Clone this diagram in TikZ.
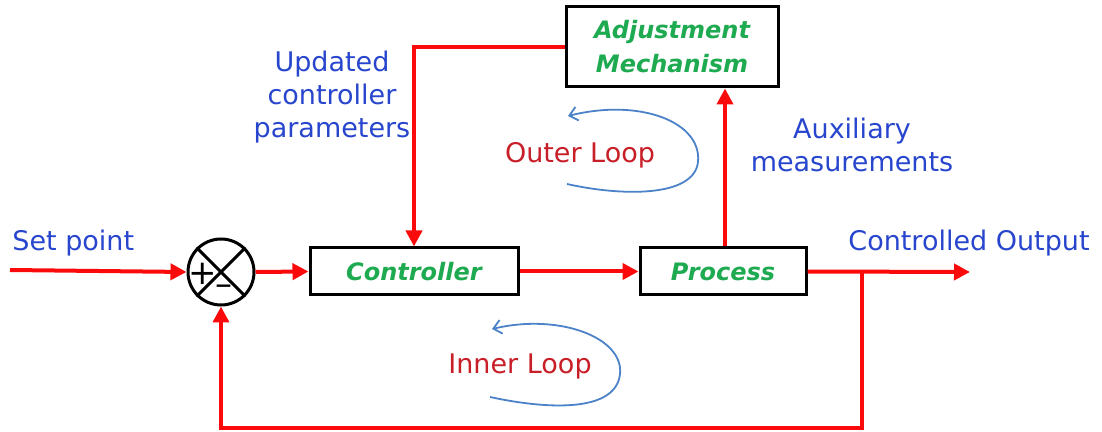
\documentclass[tikz,border=0pt]{standalone}
\usepackage{fontspec}
\setmainfont{DejaVu Sans}
\usepackage{tikz}
\usetikzlibrary{arrows.meta, positioning, shapes}

\definecolor{sigred}{RGB}{250,10,10}
\definecolor{lblblue}{RGB}{40,70,205}
\definecolor{boxgreen}{RGB}{30,170,80}
\definecolor{loopred}{RGB}{200,30,40}
\definecolor{loopblue}{RGB}{75,130,200}

\tikzset{
	block/.style={draw, line width=1.5pt, minimum height=23.5pt, inner sep=0pt,
		font=\fontsize{12}{15}\selectfont\bfseries\itshape, text=boxgreen},
	signal/.style={draw=sigred, line width=2pt, -{Triangle[length=8pt,width=8pt]}},
	lbl/.style={font=\fontsize{13.5}{16.5}\selectfont, text=lblblue, align=center, inner sep=0pt},
	looplbl/.style={font=\fontsize{13.5}{16.5}\selectfont, text=loopred, inner sep=0pt},
	looparrow/.style={draw=loopblue, line width=0.9pt, {Straight Barb[length=4pt,width=7pt]}-}
}

\begin{document}
\begin{tikzpicture}[x=0.5pt, y=-0.5pt]
\useasboundingbox (0,0) rectangle (1102,432);

% blocks
\node[draw, circle, line width=1.5pt, minimum size=33pt, inner sep=0pt] (sum) at (221,272) {};
\node[block, minimum width=104pt] (ctrl) at (414,271.5) {Controller};
\node[block, minimum width=83pt] (proc) at (723,271.5) {Process};
\node[block, minimum width=106pt, minimum height=40pt, align=center,
	font=\fontsize{12}{17}\selectfont\bfseries\itshape] (adj) at (672,47) {Adjustment\\Mechanism};

% summing junction marks
\draw[line width=1.5pt] (sum.north west) -- (sum.south east)
	(sum.north east) -- (sum.south west);
\node[font=\fontsize{17}{17}\selectfont, inner sep=0pt] (plus) at (203,274) {+};
\node[font=\fontsize{17}{17}\selectfont, inner sep=0pt] (minus) at (224,290) {--};

% free ends
\coordinate (sp) at (10,270);
\coordinate (out) at (970,272);
\coordinate (tap) at (862,272);
\coordinate (fb) at (862,428);

% signals
\path[signal] (sp) -- (sum.west);
\path[signal] (sum.east) -- (ctrl.west);
\path[signal] (ctrl.east) -- (proc.west);
\path[signal] (proc.east) -- (out);
\path[signal] (proc.north -| 725,0) -- (adj.south -| 725,0);
\path[signal] (adj.west) -| (ctrl.north);
\path[signal] (tap) -- (fb) -| (sum.south);

% labels
\node[lbl, anchor=west] (setpt) at (12,243) {Set point};
\node[lbl, anchor=west] (outlbl) at (848,243) {Controlled Output};
\node[lbl] (upd) at (332,97) {Updated\\controller\\parameters};
\node[lbl] (aux) at (852,145) {Auxiliary\\measurements};

% loops
\node[looplbl] (outer) at (580,155) {Outer Loop};
\node[looplbl] (inner) at (520,366) {Inner Loop};
\coordinate (ola) at (568,116);
\coordinate (olb) at (567,184);
\coordinate (ila) at (492,329);
\coordinate (ilb) at (490,397);
\path[looparrow] (ola) .. controls (640,98) and (702,122) .. (698,162)
	.. controls (694,198) and (620,196) .. (olb);
\path[looparrow] (ila) .. controls (560,313) and (624,338) .. (620,374)
	.. controls (616,412) and (550,410) .. (ilb);
\end{tikzpicture}
\end{document}
